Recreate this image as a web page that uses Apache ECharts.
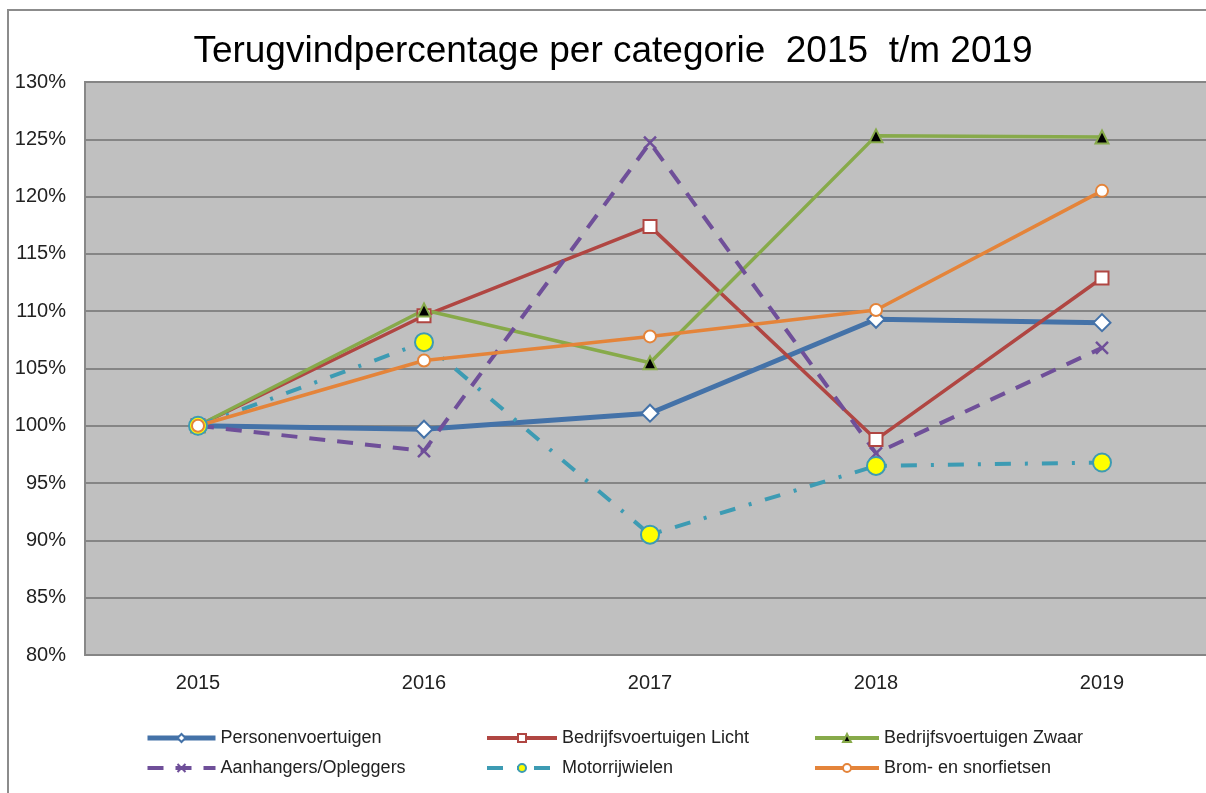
<!DOCTYPE html>
<html>
<head>
<meta charset="utf-8">
<script src="https://cdn.jsdelivr.net/npm/echarts@6/dist/echarts.min.js"></script>
<style>
  html, body { margin: 0; padding: 0; background: #fff; overflow: hidden; }
  #chart { width: 1226px; height: 793px; }
</style>
</head>
<body>
<div id="chart"></div>
<script>
var chart = echarts.init(document.getElementById('chart'));

var years = ['2015', '2016', '2017', '2018', '2019'];
var personen = [100, 99.7, 101.1, 109.3, 109.0];
var licht = [100, 109.6, 117.4, 98.8, 112.9];
var zwaar = [100, 110.1, 105.5, 125.3, 125.2];
var aanhangers = [100, 97.8, 124.7, 97.6, 106.8];
var motor = [100, 107.3, 90.5, 96.5, 96.8];
var brom = [100, 105.7, 107.8, 110.1, 120.5];

var crossPath = 'path://M0,0 L10,10 M10,0 L0,10';

var legendText = { fontFamily: 'Liberation Sans', fontSize: 18, color: '#222', lineHeight: 20 };

function legendItem(name, width, size) {
    return { name: name, lineStyle: { width: width }, itemStyle: {} };
}

var option = {
    backgroundColor: '#fff',
    animation: false,
    textStyle: { fontFamily: 'Liberation Sans' },
    title: {
        text: 'Terugvindpercentage per categorie  2015  t/m 2019',
        left: 'center',
        top: 28,
        textStyle: { fontFamily: 'Liberation Sans', fontSize: 37, fontWeight: 'normal', color: '#000' }
    },
    graphic: [{
        type: 'rect',
        shape: { x: 8, y: 10, width: 1260, height: 820 },
        style: { fill: 'none', stroke: '#8c8c8c', lineWidth: 2 },
        silent: true
    }],
    legend: [{
        left: 145, top: 728, padding: 0, orient: 'vertical', itemWidth: 68, itemHeight: 10, itemGap: 10,
        textStyle: legendText,
        data: [legendItem('Personenvoertuigen', 5), legendItem('Aanhangers/Opleggers', 4)]
    }, {
        left: 485, top: 728, padding: 0, orient: 'vertical', itemWidth: 70, itemHeight: 10, itemGap: 10,
        textStyle: legendText,
        data: [legendItem('Bedrijfsvoertuigen Licht', 4), legendItem('Motorrijwielen', 4)]
    }, {
        left: 813, top: 728, padding: 0, orient: 'vertical', itemWidth: 64, itemHeight: 10, itemGap: 10,
        textStyle: legendText,
        data: [legendItem('Bedrijfsvoertuigen Zwaar', 4), legendItem('Brom- en snorfietsen', 4)]
    }],
    grid: {
        left: 85, top: 82, width: 1130, height: 573,
        show: true, backgroundColor: '#c0c0c0', borderColor: '#888', borderWidth: 2
    },
    xAxis: {
        type: 'category',
        data: years,
        boundaryGap: true,
        axisLine: { show: false },
        axisTick: { show: false },
        axisLabel: { margin: 18, fontSize: 20, color: '#222', fontFamily: 'Liberation Sans' }
    },
    yAxis: {
        type: 'value',
        min: 80, max: 130, interval: 5,
        axisLine: { show: false },
        axisTick: { show: false },
        axisLabel: { formatter: '{value}%', margin: 19, fontSize: 20, color: '#222', fontFamily: 'Liberation Sans' },
        splitLine: { lineStyle: { color: '#858585', width: 2 } }
    },
    series: [{
        name: 'Personenvoertuigen', type: 'line', data: personen,
        symbol: 'diamond', symbolSize: 17,
        lineStyle: { color: '#4472a8', width: 5 },
        itemStyle: { color: '#fff', borderColor: '#4472a8', borderWidth: 2 }
    }, {
        name: 'Bedrijfsvoertuigen Licht', type: 'line', data: licht,
        symbol: 'rect', symbolSize: 13,
        lineStyle: { color: '#b04642', width: 3.5 },
        itemStyle: { color: '#fff', borderColor: '#b04642', borderWidth: 2 }
    }, {
        name: 'Bedrijfsvoertuigen Zwaar', type: 'line', data: zwaar,
        symbol: 'triangle', symbolSize: 13,
        lineStyle: { color: '#87aa4a', width: 3.5 },
        itemStyle: { color: '#000', borderColor: '#87aa4a', borderWidth: 2 }
    }, {
        name: 'Aanhangers/Opleggers', type: 'line', data: aanhangers,
        symbol: crossPath, symbolSize: 12,
        lineStyle: { color: '#6f4f99', width: 4, type: [16, 12] },
        itemStyle: { color: 'rgba(0,0,0,0)', borderColor: '#6f4f99', borderWidth: 2.5 }
    }, {
        name: 'Motorrijwielen', type: 'line', data: motor,
        symbol: 'circle', symbolSize: 18,
        lineStyle: { color: '#3d9bb3', width: 4, type: [16, 14, 3, 14] },
        itemStyle: { color: '#ffff00', borderColor: '#3d9bb3', borderWidth: 2 }
    }, {
        name: 'Brom- en snorfietsen', type: 'line', data: brom,
        symbol: 'circle', symbolSize: 12,
        lineStyle: { color: '#e4843a', width: 3.5 },
        itemStyle: { color: '#fff', borderColor: '#e4843a', borderWidth: 2 }
    }]
};
chart.setOption(option);
</script>
</body>
</html>
